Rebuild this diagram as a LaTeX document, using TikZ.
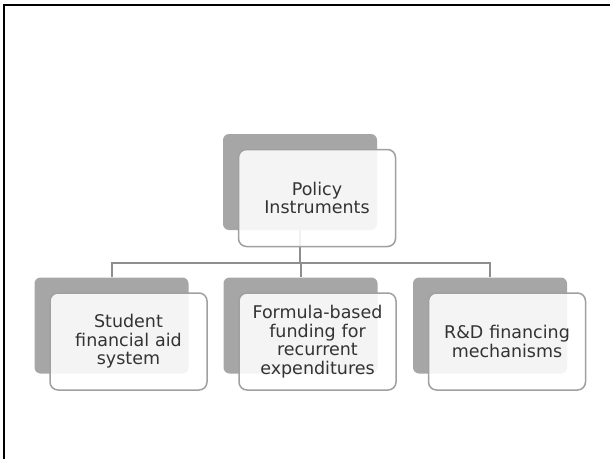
\documentclass[tikz,border=0pt]{standalone}
\usepackage{fontspec}
\setmainfont{DejaVu Sans}
\definecolor{backGray}{HTML}{A6A6A6}
\definecolor{edgeGray}{HTML}{A0A0A0}
\definecolor{linkGray}{HTML}{8E8E8E}
\tikzset{
  backbox/.style={rectangle, rounded corners=6pt, fill=backGray, minimum width=154pt, minimum height=96pt, inner sep=0pt},
  frontbox/.style={rectangle, rounded corners=8pt, draw=edgeGray, line width=1.5pt, fill=white, fill opacity=0.88, text opacity=1, minimum width=157pt, minimum height=97pt, text width=150pt, align=center, inner sep=0pt, text=black!80, font=\fontsize{17.5}{18.5}\selectfont},
  link/.style={draw=linkGray, line width=2pt}
}
\begin{document}
\begin{tikzpicture}[x=1pt,y=1pt]
  \useasboundingbox (0,0) rectangle (610,459);
  \draw[line width=2.5pt] (4,0) -- (4,454) -- (610,454);
  % shadow boxes
  \node[backbox] (policyBack) at (300,277) {};
  \node[backbox] (studentBack) at (111.5,133.5) {};
  \node[backbox] (formulaBack) at (300.5,133.5) {};
  \node[backbox] (rdBack) at (490,133.5) {};
  % tree lines
  \foreach \c in {studentBack,formulaBack,rdBack}
    \draw[link] (policyBack.south) -- ++(0,-33) -| (\c.north);
  % text boxes
  \node[frontbox] (policy) at ([shift={(17,-16)}]policyBack.center) {Policy\\Instruments};
  \node[frontbox] (student) at ([shift={(17,-16)}]studentBack.center) {Student\\financial aid\\system};
  \node[frontbox] (formula) at ([shift={(17,-16)}]formulaBack.center) {Formula-based\\funding for\\recurrent\\expenditures};
  \node[frontbox] (rd) at ([shift={(17,-16)}]rdBack.center) {R\&D financing\\mechanisms};
\end{tikzpicture}
\end{document}
